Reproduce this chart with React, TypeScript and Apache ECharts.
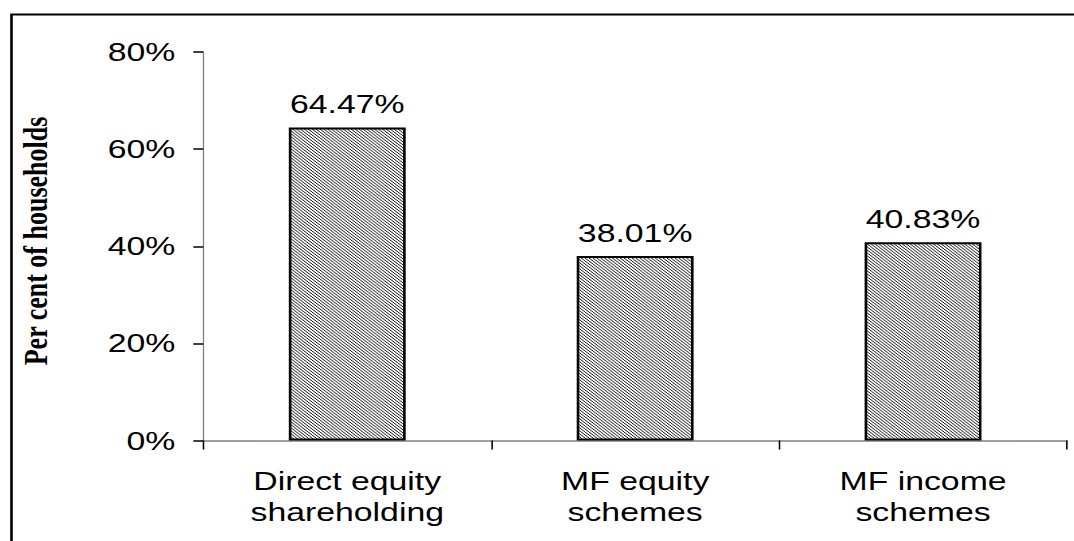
import React, { useEffect, useRef } from "react";
import * as echarts from "echarts";

const categories = ["Direct equity\nshareholding", "MF equity\nschemes", "MF income\nschemes"];
const values = [64.47, 38.01, 40.83];
const yTicks = [0, 20, 40, 60, 80];
const yAxisTitle = "Per cent of households";

// The reference picture is horizontally stretched; the chart is laid out in a
// narrower box and widened with a CSS transform to reproduce the look.
const PAGE_W = 1074;
const PAGE_H = 541;
const INNER_W = 826;
const STRETCH = PAGE_W / INNER_W;

function makePattern(): HTMLCanvasElement {
  const c = document.createElement("canvas");
  c.width = 3;
  c.height = 3;
  const ctx = c.getContext("2d")!;
  ctx.fillStyle = "#ffffff";
  ctx.fillRect(0, 0, 3, 3);
  ctx.fillStyle = "#1a1a1a";
  for (let y = 0; y < 3; y++) {
    for (let x = 0; x < 3; x++) {
      const d = (((x - y) % 3) + 3) % 3;
      if (d === 0) ctx.fillRect(x, y, 1, 1);
    }
  }
  return c;
}

export default function App() {
  const ref = useRef<HTMLDivElement>(null);
  useEffect(() => {
    if (!ref.current) return;
    const chart = echarts.init(ref.current, null, { renderer: "svg" });
    const font = "'Liberation Sans', Arial, sans-serif";
    const sx = (v: number) => v / STRETCH;
    chart.setOption({
      animation: false,
      backgroundColor: "#ffffff",
      grid: { left: sx(203.3), top: 52, right: sx(7), bottom: 100.5, containLabel: false },
      xAxis: {
        type: "category",
        data: categories,
        axisLine: { lineStyle: { color: "#808080", width: 1.5 } },
        axisTick: { show: true, length: 9, lineStyle: { color: "#000", width: 1.2 } },
        axisLabel: { color: "#000", fontSize: 26, fontFamily: font, lineHeight: 31, margin: 25 },
      },
      yAxis: {
        type: "value",
        min: yTicks[0],
        max: yTicks[yTicks.length - 1],
        interval: 20,
        axisLine: { show: true, lineStyle: { color: "#808080", width: 1 } },
        axisTick: { show: true, length: sx(10), lineStyle: { color: "#000", width: 1.5 } },
        splitLine: { show: false },
        axisLabel: { color: "#000", fontSize: 26, fontFamily: font, margin: sx(28), formatter: "{value}%" },
      },
      series: [
        {
          type: "bar",
          data: values,
          barWidth: "40.6%",
          itemStyle: {
            color: { image: makePattern(), repeat: "repeat" } as any,
            borderColor: "#000",
            borderWidth: 2,
          },
          label: {
            show: true,
            position: "top",
            distance: 10,
            color: "#000",
            fontSize: 26,
            fontFamily: font,
            formatter: (p: any) => p.value.toFixed(2) + "%",
          },
        },
      ],
      graphic: [
        {
          type: "rect",
          shape: { x: sx(11.5), y: 14.5, width: 1100, height: 600 },
          style: { fill: "none", stroke: "#000", lineWidth: 2 },
          silent: true,
        },
        {
          type: "text",
          x: sx(36),
          y: 241,
          rotation: Math.PI / 2,
          style: {
            text: yAxisTitle,
            fill: "#000",
            font: "bold 26px 'Liberation Serif', 'Times New Roman', serif",
            textAlign: "center",
            textVerticalAlign: "middle",
          },
        },
      ],
    });
    return () => chart.dispose();
  }, []);
  return (
    <div
      ref={ref}
      style={{
        position: "fixed",
        left: 0,
        top: 0,
        width: INNER_W,
        height: PAGE_H,
        transform: `scaleX(${STRETCH})`,
        transformOrigin: "0 0",
        overflow: "hidden",
      }}
    />
  );
}
